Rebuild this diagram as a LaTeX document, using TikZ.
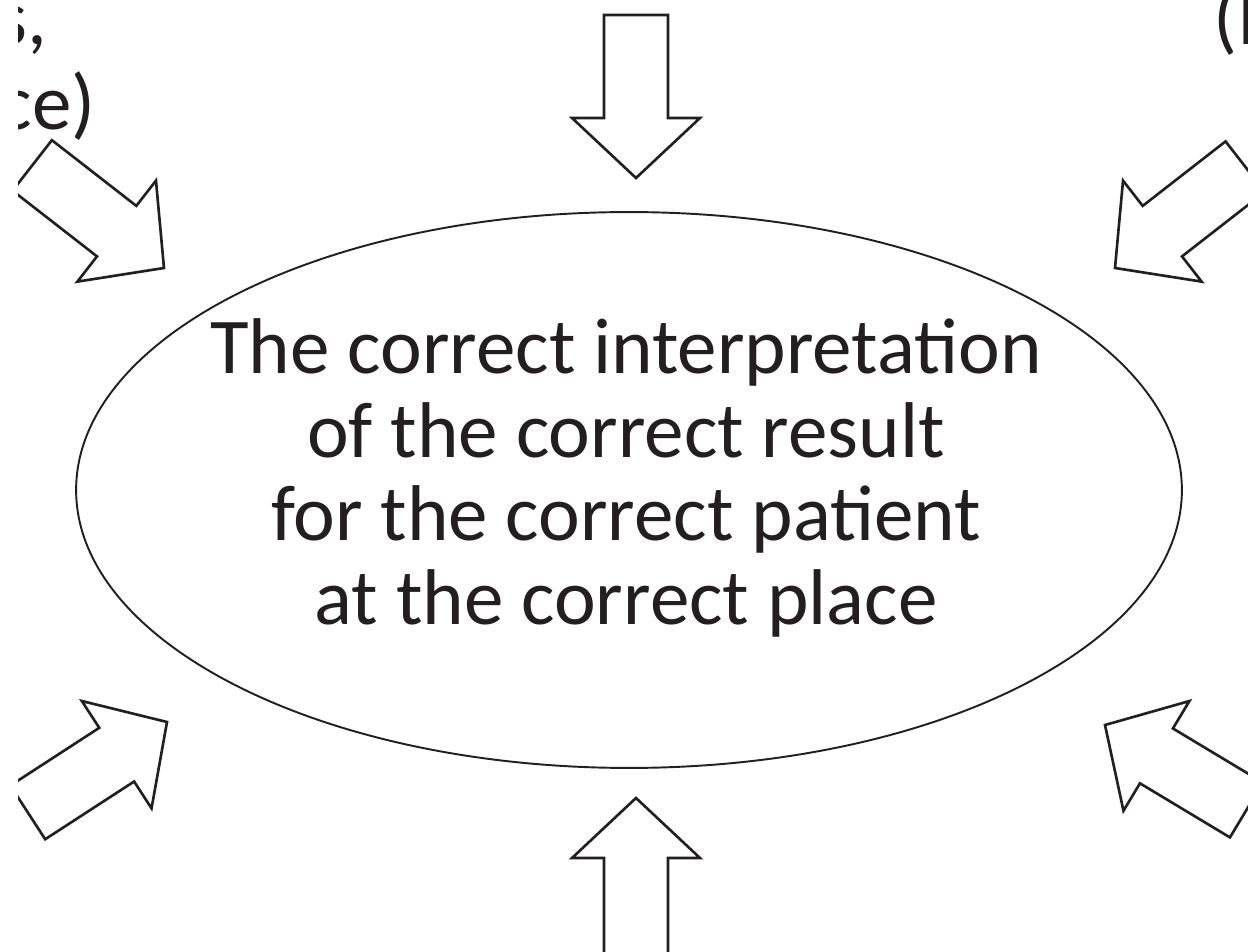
\documentclass[tikz,border=0pt]{standalone}
\usepackage{fontspec}
\setmainfont{Carlito}
\usetikzlibrary{shapes.geometric}
\definecolor{inkgray}{HTML}{231F20}
\tikzset{
  blockarrow/.style={draw=inkgray, line width=1.5pt, fill=white, line join=miter},
  bigtext/.style={font=\fontsize{45}{47.6}\selectfont, text=inkgray},
}

\begin{document}
\begin{tikzpicture}[x=0.02cm,y=-0.02cm]
  \useasboundingbox (0,0) rectangle (1248,952);
  \clip (18,0) rectangle (1248,952);
  % cut-off labels of the outer boxes
  \node[bigtext, anchor=base east, inner sep=0] (tltop) at (48,45) {s,};
  \node[bigtext, anchor=base east, inner sep=0] (tlbot) at (96,130) {ce)};
  \node[bigtext, anchor=base west, inner sep=0] (trtop) at (1213,45) {(I};
  % centre
  \node[ellipse, draw=inkgray, line width=1.1pt, minimum width=22.12cm, minimum height=11.12cm, inner sep=0] (core) at (629,490) {};
  \node[bigtext, align=center] (msg) at (626,478) {The correct interpretation\\ of the correct result\\ for the correct patient\\ at the correct place};
  % arrows pointing in
  \foreach \tx/\ty/\ang/\len in {636/178/-90/103, 636/798/90/110, 164/268/-37.9/107, 1115/268/-142.1/105, 167/722/33/106, 1105/725/149/105}
    \draw[blockarrow, shift={(\tx,\ty)}, rotate=\ang] (0,0) -- (-60,-64) -- (-60,-32) -- (-60-\len,-32) -- (-60-\len,32) -- (-60,32) -- (-60,64) -- cycle;
\end{tikzpicture}
\end{document}
